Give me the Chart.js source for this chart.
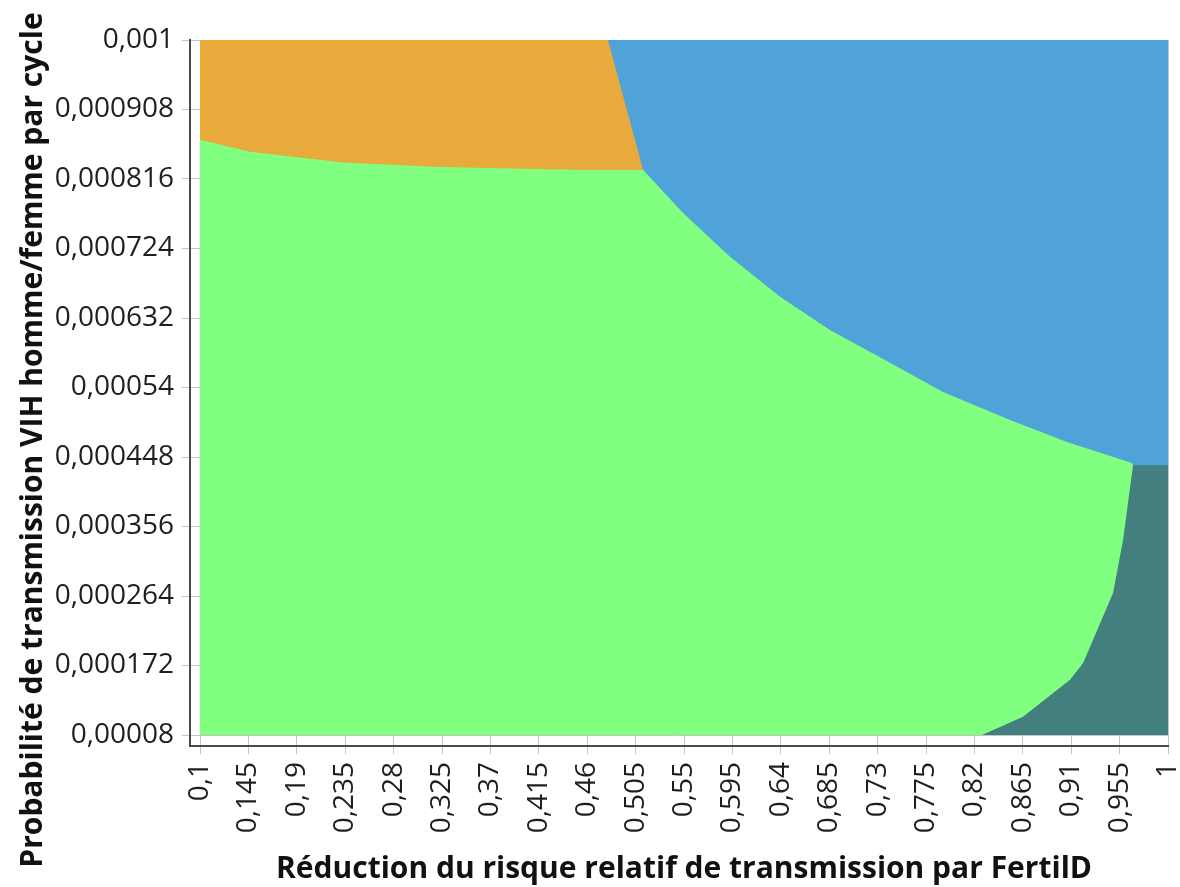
<!DOCTYPE html>
<html>
<head>
<meta charset="utf-8">
<script src="https://cdn.jsdelivr.net/npm/chart.js@4/dist/chart.umd.min.js"></script>
<style>
  html, body { margin: 0; padding: 0; background: #ffffff; }
  #c { display: block; }
</style>
</head>
<body>
<canvas id="c" width="1180" height="887"></canvas>
<script>
// ---------- data ----------
const xTickValues = [0.1, 0.145, 0.19, 0.235, 0.28, 0.325, 0.37, 0.415, 0.46, 0.505, 0.55,
                     0.595, 0.64, 0.685, 0.73, 0.775, 0.82, 0.865, 0.91, 0.955, 1];
const xTickLabels = ['0,1', '0,145', '0,19', '0,235', '0,28', '0,325', '0,37', '0,415', '0,46', '0,505', '0,55',
                     '0,595', '0,64', '0,685', '0,73', '0,775', '0,82', '0,865', '0,91', '0,955', '1'];
const yTickValues = [0.00008, 0.000172, 0.000264, 0.000356, 0.000448, 0.00054,
                     0.000632, 0.000724, 0.000816, 0.000908, 0.001];
const yTickLabels = ['0,00008', '0,000172', '0,000264', '0,000356', '0,000448', '0,00054',
                     '0,000632', '0,000724', '0,000816', '0,000908', '0,001'];

const X_MIN = 0.1, X_MAX = 1, Y_MIN = 0.00008, Y_MAX = 0.001;

// top edge of the blue region (whole domain)
const blueX = [0.1, 1];
const blueY = [0.001, 0.001];
// top edge of the orange region (orange / blue boundary)
const orangeX = [0.1, 0.4793, 0.512];
const orangeY = [0.001, 0.001, 0.000828];
// top edge of the green region (orange/green then green/blue boundary)
const greenX = [0.1, 0.1465, 0.233, 0.3231, 0.4561, 0.512, 0.5491, 0.5928, 0.6393, 0.6857,
                0.7322, 0.7908, 0.8531, 0.9061, 0.9665, 0.9675];
const greenY = [0.000868, 0.000852, 0.000838, 0.000832, 0.000828, 0.000828, 0.000771, 0.000713,
                0.00066, 0.000616, 0.00058, 0.000534, 0.000497, 0.000468, 0.00044, 0.000437];
// top edge of the dark region (green/dark boundary then blue/dark boundary)
const darkX = [0.8271, 0.8652, 0.9089, 0.921, 0.9489, 0.9582, 0.9675, 1];
const darkY = [0.00008, 0.000104, 0.000153, 0.000175, 0.000268, 0.000338, 0.000437, 0.000437];

const xTitle = 'Réduction du risque relatif de transmission par FertilD';
const yTitle = 'Probabilité de transmission VIH homme/femme par cycle';

// ---------- layout ----------
const W = 1180, H = 887;
const AREA_LEFT = 190, AREA_RIGHT = 1168, AREA_TOP = 40, AREA_BOTTOM = 746;
const GAP_X = 10, GAP_Y = 11; // axes sit slightly away from the data area
const areaW = AREA_RIGHT - AREA_LEFT, areaH = AREA_BOTTOM - AREA_TOP;
const xAxisMin = X_MAX - (X_MAX - X_MIN) * areaW / (areaW - GAP_X);
const yAxisMin = Y_MAX - (Y_MAX - Y_MIN) * areaH / (areaH - GAP_Y);

const pts = (xs, ys) => xs.map((x, i) => ({ x: x, y: ys[i] }));
const region = (xs, ys, color) => ({
  data: pts(xs, ys),
  borderWidth: 0,
  borderColor: color,
  backgroundColor: color,
  pointRadius: 0,
  tension: 0,
  fill: { value: Y_MIN }
});

const tickFont = { family: '"Open Sans", "Noto Sans", sans-serif', size: 28 };
const tickColor = '#1e1e1e';

const noPad = s => { s.paddingLeft = 0; s.paddingRight = 0; s.paddingTop = 0; s.paddingBottom = 0; };

const axisTitles = {
  id: 'axisTitles',
  afterDraw(chart) {
    const { ctx, scales } = chart;
    const x = scales.x;
    ctx.save();
    ctx.font = 'bold 30px "Open Sans", "Noto Sans", sans-serif';
    ctx.fillStyle = '#111111';
    ctx.textAlign = 'center';
    ctx.textBaseline = 'alphabetic';
    const cx = (x.getPixelForValue(X_MIN) + x.getPixelForValue(X_MAX)) / 2;
    ctx.fillText(xTitle, cx, 878);
    ctx.translate(42, 440);
    ctx.rotate(-Math.PI / 2);
    ctx.fillText(yTitle, 0, 0);
    ctx.restore();
  }
};

new Chart(document.getElementById('c'), {
  type: 'line',
  data: {
    datasets: [
      region(darkX, darkY, '#437f7f'),
      region(greenX, greenY, '#80ff80'),
      region(orangeX, orangeY, '#e8aa3a'),
      region(blueX, blueY, '#4fa3d9')
    ]
  },
  options: {
    responsive: false,
    animation: false,
    events: [],
    layout: { padding: { top: AREA_TOP, right: W - AREA_RIGHT, left: 0, bottom: 0 } },
    plugins: { legend: { display: false }, tooltip: { enabled: false } },
    scales: {
      x: {
        type: 'linear',
        min: xAxisMin,
        max: X_MAX,
        afterBuildTicks: s => { s.ticks = xTickValues.map(v => ({ value: v })); },
        afterFit: s => { s.height = H - AREA_BOTTOM; noPad(s); },
        ticks: {
          autoSkip: false,
          minRotation: 90,
          maxRotation: 90,
          padding: 8,
          font: tickFont,
          color: tickColor,
          callback: (v, i) => xTickLabels[i]
        },
        grid: { color: '#c4c4c4', lineWidth: 1, tickLength: 8, drawOnChartArea: true },
        border: { color: '#4a4a4a', width: 2 }
      },
      y: {
        type: 'linear',
        min: yAxisMin,
        max: Y_MAX,
        afterBuildTicks: s => { s.ticks = yTickValues.map(v => ({ value: v })); },
        afterFit: s => { s.width = AREA_LEFT; noPad(s); },
        ticks: {
          autoSkip: false,
          padding: 8,
          font: tickFont,
          color: tickColor,
          callback: (v, i) => yTickLabels[i]
        },
        grid: { color: '#c4c4c4', lineWidth: 1, tickLength: 8, drawOnChartArea: true },
        border: { color: '#4a4a4a', width: 2 }
      }
    }
  },
  plugins: [axisTitles]
});
</script>
</body>
</html>
